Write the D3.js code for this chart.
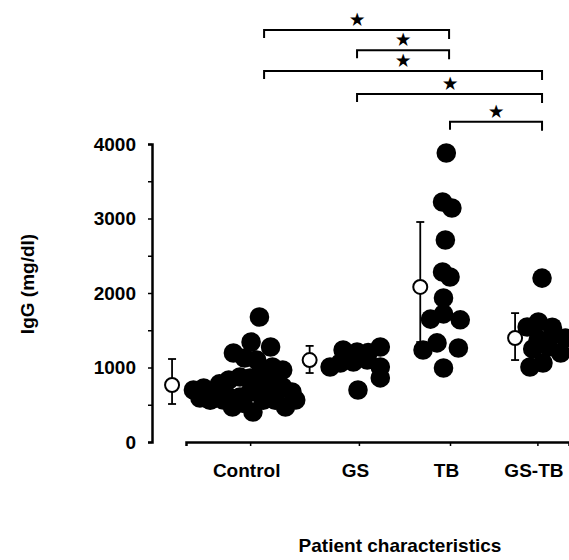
<!DOCTYPE html>
<html>
<head>
<meta charset="utf-8">
<script src="https://cdn.jsdelivr.net/npm/d3@7"></script>
<style>
  body { margin: 0; background: #fff; }
  text { font-family: "Liberation Sans", Arial, sans-serif; font-weight: bold; fill: #000; }
</style>
</head>
<body>
<script>
// groups along the x axis
let categories = ["Control", "GS", "TB", "GS-TB"];
let categoryTicks = [0.88, 2.05, 3.03, 3.97];

// individual patients: [x position (group units), IgG mg/dl]
let controlPts = [
    [0.98, 1678], [0.89, 1342], [1.10, 1275], [0.70, 1195], [0.82, 1128],
    [1.23, 966], [1.12, 1007], [0.99, 926], [0.77, 872], [0.65, 832],
    [0.27, 698], [0.38, 725], [0.51, 671], [0.65, 604], [0.77, 604],
    [0.88, 671], [0.99, 698], [1.12, 765], [1.23, 738], [1.33, 671],
    [1.37, 564], [1.26, 470], [0.69, 470], [0.59, 564], [0.91, 403],
    [0.34, 590], [0.88, 860], [0.95, 1100], [1.05, 860], [0.55, 780],
    [0.45, 560], [1.15, 560], [1.02, 560], [0.80, 520]
];
let gsPts = [
    [1.88, 1235], [2.03, 1208], [2.28, 1275], [1.74, 1007], [1.85, 1060],
    [1.99, 1073], [2.14, 1100], [2.28, 1007], [2.28, 860], [2.04, 698],
    [2.15, 1200]
];
let tbPts = [
    [2.99, 3879], [2.95, 3221], [3.05, 3141], [2.98, 2711], [2.95, 2282],
    [3.03, 2215], [2.96, 1933], [2.96, 1720], [2.82, 1650], [3.14, 1640],
    [2.74, 1235], [2.89, 1330], [3.12, 1262], [2.96, 993]
];
let gstbPts = [
    [4.02, 2200], [3.98, 1611], [3.86, 1544], [4.13, 1540], [4.27, 1396],
    [4.09, 1275], [3.92, 1250], [3.89, 1007], [4.03, 1060], [4.22, 1195],
    [3.98, 1380], [4.15, 1450]
];

// mean +/- SD markers
let meanX = [0.04, 1.52, 2.71, 3.73];
let meanIgG = [765, 1100, 2081, 1396];
let sdLow = [510, 926, 1342, 1100];
let sdHigh = [1114, 1290, 2953, 1730];

// significance brackets: [from group, to group], drawn at a level above the data
let bracketPairs = [[1, 3], [2, 3], [1, 4], [2, 4], [3, 4]];
let bracketLevels = [5530, 5260, 4980, 4670, 4300];

let w = 569;
let h = 560;

let svg = d3.select("body")
    .append("svg")
    .attr("width", w)
    .attr("height", h);

let xScale = d3.scaleLinear()
    .domain([0.19, 4.31])
    .range([186, 569]);

let yScale = d3.scaleLinear()
    .domain([0, 4000])
    .range([442, 144]);

// y axis, ticks every 500, labels every 1000
let yAxis = d3.axisLeft(yScale)
    .tickValues(d3.range(0, 4001, 500))
    .tickFormat(function(d) { return d % 1000 === 0 ? d : ""; })
    .tickSize(4)
    .tickPadding(12);

let gy = svg.append("g")
    .attr("transform", "translate(152,0)")
    .call(yAxis);
gy.select(".domain").attr("stroke-width", 2.5);
gy.selectAll(".tick line").attr("stroke-width", 1.5);
gy.selectAll(".tick text").attr("font-size", "19px").attr("font-family", null);

// x axis
let xAxis = d3.axisBottom(xScale)
    .tickValues(categoryTicks)
    .tickFormat(function(d, i) { return categories[i]; })
    .tickSizeOuter(0)
    .tickSize(4)
    .tickPadding(18);

let gx = svg.append("g")
    .attr("transform", "translate(0,442)")
    .call(xAxis);
gx.select(".domain").attr("stroke-width", 2.5);
gx.selectAll(".tick line").attr("stroke-width", 1.5);
gx.selectAll(".tick text").attr("font-size", "19px").attr("font-family", null).attr("dx", -4);

// error bars (behind the dots)
let capW = 4;
let eb = svg.append("g");
meanX.forEach(function(mx, i) {
    let cx = xScale(mx);
    eb.append("line")
        .attr("x1", cx).attr("x2", cx)
        .attr("y1", yScale(sdLow[i])).attr("y2", yScale(sdHigh[i]))
        .attr("stroke", "#000").attr("stroke-width", 1.8);
    [sdLow[i], sdHigh[i]].forEach(function(v) {
        eb.append("line")
            .attr("x1", cx - capW).attr("x2", cx + capW)
            .attr("y1", yScale(v)).attr("y2", yScale(v))
            .attr("stroke", "#000").attr("stroke-width", 1.8);
    });
});

// patient dots
let allPts = controlPts.concat(gsPts, tbPts, gstbPts);
svg.append("g")
    .selectAll("circle")
    .data(allPts)
    .enter()
    .append("circle")
    .attr("cx", function(d) { return xScale(d[0]); })
    .attr("cy", function(d) { return yScale(d[1]); })
    .attr("r", 9.8)
    .attr("fill", "#000");

// means
svg.append("g")
    .selectAll("circle")
    .data(meanIgG)
    .enter()
    .append("circle")
    .attr("cx", function(d, i) { return xScale(meanX[i]); })
    .attr("cy", function(d) { return yScale(d); })
    .attr("r", 7)
    .attr("fill", "#fff")
    .attr("stroke", "#000")
    .attr("stroke-width", 2);

// brackets
let drop = 8;
let br = svg.append("g");
bracketPairs.forEach(function(p, i) {
    let x1 = xScale(p[0] + 0.03);
    let x2 = xScale(p[1] + 0.02);
    let yl = yScale(bracketLevels[i]);
    br.append("path")
        .attr("d", "M" + x1 + "," + (yl + drop) + "V" + yl + "H" + x2 + "V" + (yl + drop + 1))
        .attr("fill", "none")
        .attr("stroke", "#000")
        .attr("stroke-width", 2);
    br.append("text")
        .attr("x", (x1 + x2) / 2)
        .attr("y", yl - 5)
        .attr("text-anchor", "middle")
        .attr("font-size", "16px")
        .text("★");
});

// axis titles
svg.append("text")
    .attr("x", 400)
    .attr("y", 552)
    .attr("text-anchor", "middle")
    .attr("font-size", "19px")
    .text("Patient characteristics");

svg.append("text")
    .attr("transform", "translate(34,284) rotate(-90)")
    .attr("text-anchor", "middle")
    .attr("font-size", "19px")
    .text("IgG (mg/dl)");
</script>
</body>
</html>
